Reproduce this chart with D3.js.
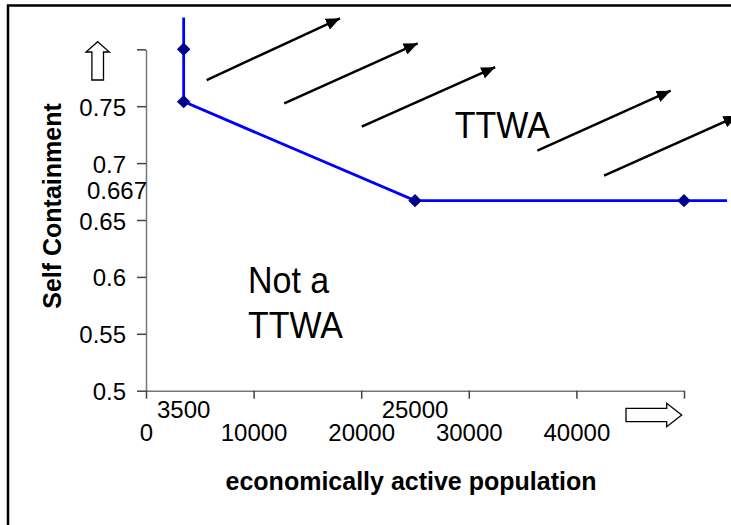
<!DOCTYPE html>
<html lang="en">
<head>
    <meta charset="UTF-8">
    <title>TTWA criteria</title>
    <script src="https://cdn.jsdelivr.net/npm/d3@7"></script>
    <style>
        body { margin: 0; background: #fff; }
        svg { display: block; font-family: "Liberation Sans", Arial, sans-serif; }
        .axis path.domain { stroke: #777; stroke-width: 1.5px; }
        .axis line { stroke: #444; stroke-width: 1.5px; }
        .axis text { font-size: 24px; fill: #000; font-family: "Liberation Sans", Arial, sans-serif; }
        .title { font-size: 25px; font-weight: bold; }
        .note { font-size: 34px; }
    </style>
</head>
<body>
<div id="svgcontainer"></div>
<script>
    const width = 731;
    const height = 525;

    // axis ticks
    const xTicks = [0, 10000, 20000, 30000, 40000, 50000];
    const yTicks = [0.5, 0.55, 0.6, 0.65, 0.7, 0.75, 0.8];
    // threshold labels
    const xThresholds = [3500, 25000];
    const yThresholds = [0.667];

    // boundary line and its points
    const lineX = [3500, 3500, 3500, 25000, 50000, 54000];
    const lineY = [0.828, 0.8, 0.754, 0.667, 0.667, 0.667];
    const pointX = [3500, 3500, 25000, 50000];
    const pointY = [0.8, 0.754, 0.667, 0.667];

    // direction arrows (data units)
    const arrowX0 = [5640, 12850, 20050, 36370, 42570];
    const arrowY0 = [0.773, 0.7525, 0.732, 0.711, 0.689];
    const arrowX1 = [18030, 25250, 32450, 48760, 54970];
    const arrowY1 = [0.8272, 0.8053, 0.7843, 0.7636, 0.7414];

    // region labels
    const noteText = ["TTWA", "Not a", "TTWA"];
    const noteX = [28700, 9480, 9480];
    const noteY = [0.7223, 0.586, 0.546];

    const svg = d3.select("#svgcontainer")
        .append("svg")
        .attr("width", width)
        .attr("height", height);

    const x = d3.scaleLinear().domain([0, 50000]).range([146, 684]);
    const y = d3.scaleLinear().domain([0.5, 0.8]).range([390.7, 49.3]);

    // outer frame (runs off the right and bottom edges)
    svg.append("rect")
        .attr("x", 8)
        .attr("y", 5.5)
        .attr("width", 800)
        .attr("height", 600)
        .attr("fill", "none")
        .attr("stroke", "#000")
        .attr("stroke-width", 2.5);

    const yAxis = svg.append("g")
        .attr("class", "axis")
        .attr("transform", "translate(" + x(0) + ",0)")
        .call(d3.axisLeft(y)
            .tickValues(yTicks)
            .tickSize(9)
            .tickSizeOuter(0)
            .tickPadding(11)
            .tickFormat(function (d) {
                return d === 0.8 ? "" : String(+d.toFixed(2));
            }));
    yAxis.selectAll("text").attr("dy", null).attr("y", 9);

    svg.append("g")
        .attr("class", "axis")
        .attr("transform", "translate(0," + y(0.5) + ")")
        .call(d3.axisBottom(x)
            .tickValues(xTicks)
            .tickSize(8)
            .tickSizeOuter(0)
            .tickPadding(25)
            .tickFormat(function (d) {
                return d === 50000 ? "" : String(d);
            }));

    // threshold labels
    svg.selectAll("text.xthr")
        .data(xThresholds)
        .enter()
        .append("text")
        .attr("class", "xthr")
        .attr("x", function (d) { return x(d); })
        .attr("y", 418)
        .attr("text-anchor", "middle")
        .style("font-size", "24px")
        .text(function (d) { return d; });

    svg.selectAll("text.ythr")
        .data(yThresholds)
        .enter()
        .append("text")
        .attr("class", "ythr")
        .attr("x", x(0) + 1)
        .attr("y", function (d) { return y(d) - 2; })
        .attr("text-anchor", "end")
        .style("font-size", "24px")
        .text(function (d) { return d; });

    // axis titles
    svg.append("text")
        .attr("class", "title")
        .attr("text-anchor", "middle")
        .attr("transform", "translate(61,206) rotate(-90)")
        .text("Self Containment");

    svg.append("text")
        .attr("class", "title")
        .attr("text-anchor", "middle")
        .attr("x", 411)
        .attr("y", 490)
        .text("economically active population");

    // hollow arrows beside the axes
    svg.append("path")
        .attr("transform", "translate(" + (x(0) - 48.3) + "," + (y(0.8) - 7.6) + ")")
        .attr("d", "M0,0 L11.7,10.3 L5.8,10.3 L5.8,38.3 L-5.8,38.3 L-5.8,10.3 L-11.7,10.3 Z")
        .attr("fill", "#fff")
        .attr("stroke", "#000")
        .attr("stroke-width", 1.3);

    svg.append("path")
        .attr("transform", "translate(" + (x(50000) - 2.3) + "," + (y(0.5) + 24.3) + ")")
        .attr("d", "M0,0 L-15,-11.7 L-15,-6.7 L-55.7,-6.7 L-55.7,6.7 L-15,6.7 L-15,11.7 Z")
        .attr("fill", "#fff")
        .attr("stroke", "#000")
        .attr("stroke-width", 1.3);

    // direction arrows
    svg.append("defs")
        .append("marker")
        .attr("id", "head")
        .attr("markerUnits", "userSpaceOnUse")
        .attr("markerWidth", 15)
        .attr("markerHeight", 12)
        .attr("refX", 14)
        .attr("refY", 6)
        .attr("orient", "auto")
        .append("path")
        .attr("d", "M0,0 L14,6 L0,12 Z")
        .attr("fill", "#000");

    svg.selectAll("line.dir")
        .data(arrowX0)
        .enter()
        .append("line")
        .attr("class", "dir")
        .attr("x1", function (d) { return x(d); })
        .attr("y1", function (d, i) { return y(arrowY0[i]); })
        .attr("x2", function (d, i) { return x(arrowX1[i]); })
        .attr("y2", function (d, i) { return y(arrowY1[i]); })
        .attr("stroke", "#000")
        .attr("stroke-width", 2.5)
        .attr("marker-end", "url(#head)");

    // boundary
    const line = d3.line()
        .x(function (d) { return x(d); })
        .y(function (d, i) { return y(lineY[i]); });

    svg.append("path")
        .attr("d", line(lineX))
        .attr("fill", "none")
        .attr("stroke", "#0000ff")
        .attr("stroke-width", 2.8);

    svg.selectAll("path.pt")
        .data(pointX)
        .enter()
        .append("path")
        .attr("class", "pt")
        .attr("d", d3.symbol().type(d3.symbolSquare).size(90))
        .attr("transform", function (d, i) {
            return "translate(" + x(d) + "," + y(pointY[i]) + ") rotate(45)";
        })
        .attr("fill", "#00008b");

    // region labels
    svg.selectAll("text.note")
        .data(noteText)
        .enter()
        .append("text")
        .attr("class", "note")
        .attr("transform", function (d, i) {
            return "translate(" + x(noteX[i]) + "," + y(noteY[i]) + ") scale(1,1.1)";
        })
        .text(function (d) { return d; });
</script>
</body>
</html>
